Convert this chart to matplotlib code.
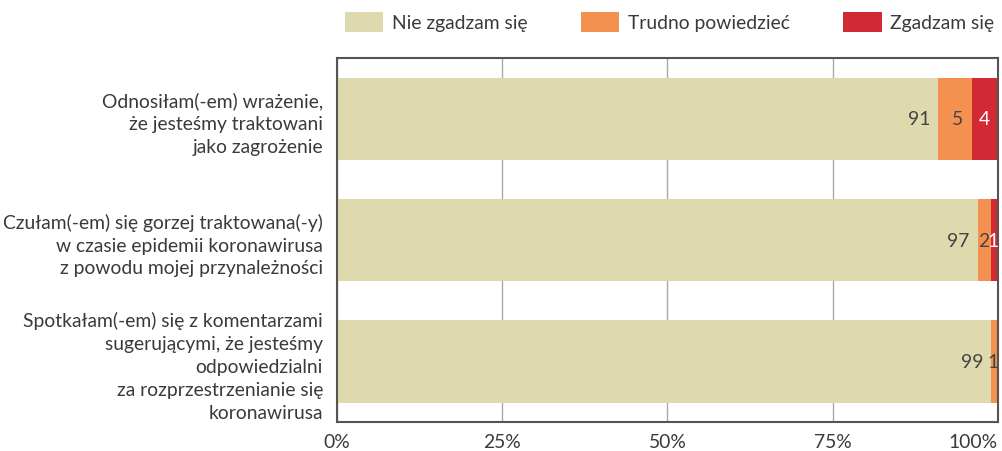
import matplotlib.pyplot as plt
from matplotlib.patches import Patch

plt.rcParams['font.family'] = ['Lato', 'DejaVu Sans']

categories = [
    'Odnosiłam(-em) wrażenie,\nże jesteśmy traktowani\njako zagrożenie',
    'Czułam(-em) się gorzej traktowana(-y)\nw czasie epidemii koronawirusa\nz powodu mojej przynależności',
    'Spotkałam(-em) się z komentarzami\nsugerującymi, że jesteśmy\nodpowiedzialni\nza rozprzestrzenianie się\nkoronawirusa',
]
series_names = ['Nie zgadzam się', 'Trudno powiedzieć', 'Zgadzam się']
disagree = [91, 97, 99]
hard_to_say = [5, 2, 1]
agree = [4, 1, 0]
xticks = [0, 25, 50, 75, 100]
xtick_labels = ['0%', '25%', '50%', '75%', '100%']

colors = ['#dedaae', '#f59150', '#d12a35']
label_colors = ['#444444', '#444444', '#ffffff']
text_color = '#3a3a3a'
fs = 13.9

fig = plt.figure(figsize=(10.03, 4.52), dpi=100)
ax = fig.add_axes([0.336, 0.064, 0.659, 0.805])

ypos = list(range(len(categories)))
left = [0] * len(categories)
for vals, col, lcol in zip([disagree, hard_to_say, agree], colors, label_colors):
    ax.barh(ypos, vals, left=left, height=0.68, color=col, zorder=2)
    for y, l, v in zip(ypos, left, vals):
        if v == 0:
            continue
        if v >= 3:
            ax.annotate(str(v), (l + v, y), xytext=(-6, 0), textcoords='offset points',
                        ha='right', va='center', fontsize=fs, color=lcol, zorder=3)
        else:
            ax.annotate(str(v), (l + v / 2, y), xytext=(-1, 0), textcoords='offset points',
                        ha='center', va='center', fontsize=fs, color=lcol, zorder=3)
    left = [a + b for a, b in zip(left, vals)]

ax.set_xlim(0, 100)
ax.set_ylim(2.5, -0.5)
ax.set_yticks(ypos)
ax.set_yticklabels(categories, fontsize=fs, color=text_color,
                   multialignment='right', linespacing=1.42)
ax.set_xticks(xticks)
ax.set_xticklabels(xtick_labels, fontsize=fs, color=text_color)
ax.get_xticklabels()[-1].set_ha('right')
ax.tick_params(axis='both', length=0)
ax.tick_params(axis='y', pad=10)
ax.tick_params(axis='x', pad=8)
ax.grid(axis='x', color='#aaaaaa', linewidth=1, zorder=1)
for s in ax.spines.values():
    s.set_color('#555555')
    s.set_linewidth(1.5)

handles = [Patch(facecolor=c, edgecolor='none') for c in colors]
leg = fig.legend(handles, series_names, loc='upper right', bbox_to_anchor=(1.004, 1.0),
                 ncol=3, frameon=False, handlelength=2.0, handleheight=1.25,
                 handletextpad=0.45, columnspacing=2.75, borderaxespad=0.25,
                 prop={'size': fs})
for t in leg.get_texts():
    t.set_color(text_color)

fig.savefig('out.png', dpi=100)
